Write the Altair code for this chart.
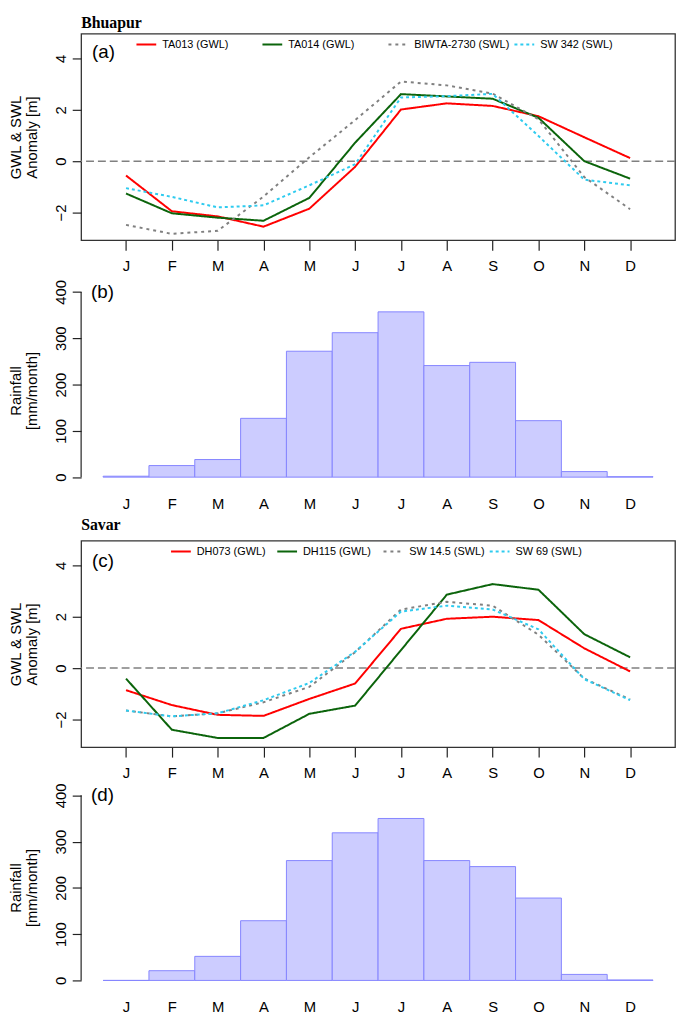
import altair as alt
import pandas as pd

months = list(range(1, 13))
month_labels = ["J", "F", "M", "A", "M", "J", "J", "A", "S", "O", "N", "D"]

# Bhuapur anomalies [m]
bh_names = ["TA013 (GWL)", "TA014 (GWL)", "BIWTA-2730 (SWL)", "SW 342 (SWL)"]
ta013 = [-0.56, -1.95, -2.15, -2.55, -1.85, -0.22, 2.01, 2.25, 2.15, 1.75, 0.93, 0.12]
ta014 = [-1.26, -2.03, -2.20, -2.32, -1.43, 0.72, 2.61, 2.52, 2.43, 1.69, 0.00, -0.68]
biwta2730 = [-2.48, -2.83, -2.71, -1.38, 0.15, 1.60, 3.10, 2.95, 2.63, 1.63, -0.62, -1.87]
sw342 = [-1.05, -1.39, -1.80, -1.72, -0.94, -0.12, 2.48, 2.53, 2.62, 0.98, -0.72, -0.94]
rain_bhuapur = [2, 25, 38, 127, 272, 312, 357, 241, 248, 122, 12, 1]

# Savar anomalies [m]
sv_names = ["DH073 (GWL)", "DH115 (GWL)", "SW 14.5 (SWL)", "SW 69 (SWL)"]
dh073 = [-0.86, -1.44, -1.82, -1.86, -1.20, -0.60, 1.53, 1.92, 2.00, 1.87, 0.77, -0.13]
dh115 = [-0.41, -2.40, -2.72, -2.72, -1.78, -1.46, 0.70, 2.86, 3.27, 3.05, 1.32, 0.42]
sw145 = [-1.65, -1.88, -1.76, -1.33, -0.73, 0.62, 2.28, 2.58, 2.43, 1.30, -0.41, -1.22]
sw69 = [-1.65, -1.88, -1.76, -1.25, -0.58, 0.64, 2.20, 2.43, 2.28, 1.51, -0.43, -1.25]
rain_savar = [0, 21, 52, 129, 259, 319, 350, 259, 246, 178, 13, 1]

line_colors = ["#ff0000", "#0b640b", "#808080", "#2ecbef"]
line_dashes = [[1, 0], [1, 0], [3, 4], [3, 3]]

gwl_ticks = [-2, 0, 2, 4]
rain_ticks = [0, 100, 200, 300, 400]

W = 601
H_LINE = 209
XDOM = [0.02, 12.98]
label_expr = "[" + ",".join("'%s'" % m for m in month_labels) + "][datum.value - 1]"
FONT = "Liberation Sans"
TITLE_PAD = 14


def line_panel(names, series, tag, title, legend_x, tag_y, title_y):
    rows = []
    for name, vals in zip(names, series):
        for m, v in zip(months, vals):
            rows.append({"month": m, "value": v, "series": name})
    df = pd.DataFrame(rows)
    legend = alt.Legend(title=None, orient="none", legendX=legend_x, legendY=0,
                        direction="horizontal", gridAlign="all", columns=4,
                        symbolType="stroke", symbolSize=400, symbolStrokeWidth=2,
                        labelFontSize=11, labelFont=FONT, labelOffset=5,
                        columnPadding=0.5, padding=0)
    x = alt.X("month:Q", scale=alt.Scale(domain=XDOM, nice=False, zero=False),
              axis=alt.Axis(values=months, labelExpr=label_expr, domain=False, tickSize=10,
                            tickWidth=1.2, labelPadding=9, title=None, grid=False,
                            labelAngle=0, labelFontSize=15))
    y = alt.Y("value:Q", scale=alt.Scale(domain=[-3.08, 4.96], nice=False, zero=False),
              axis=alt.Axis(values=gwl_ticks, title=["GWL & SWL", "Anomaly [m]"],
                            labelAngle=-90, domain=False, tickSize=9, tickWidth=1.2,
                            labelPadding=4, titlePadding=TITLE_PAD, grid=False,
                            labelFontSize=15, titleFontSize=15, titleLineHeight=16))
    lines = alt.Chart(df).mark_line(strokeWidth=2).encode(
        x=x, y=y,
        color=alt.Color("series:N", scale=alt.Scale(domain=names, range=line_colors), legend=legend),
        strokeDash=alt.StrokeDash("series:N", scale=alt.Scale(domain=names, range=line_dashes), legend=legend),
    )
    zero = alt.Chart(pd.DataFrame({"z": [0]})).mark_rule(
        color="#808080", strokeDash=[8, 4], strokeWidth=1.5).encode(y="z:Q")
    lab = alt.Chart(pd.DataFrame({"t": [tag]})).mark_text(
        align="left", baseline="middle", fontSize=19, font=FONT, color="black").encode(
        x=alt.value(11), y=alt.value(tag_y), text="t:N")
    ttl = alt.Chart(pd.DataFrame({"t": [title]})).mark_text(
        align="left", baseline="alphabetic", fontSize=16, font="Liberation Serif",
        fontWeight="bold", color="black").encode(
        x=alt.value(0), y=alt.value(title_y), text="t:N")
    return alt.layer(zero, lines, lab, ttl).properties(
        width=W, height=H_LINE,
        view=alt.ViewBackground(stroke="#333333", strokeWidth=1.3),
    )


def bar_panel(rain, tag, ydom, height, label_pad):
    df = pd.DataFrame({"month": months, "rain": rain})
    x = alt.X("x0:Q", scale=alt.Scale(domain=XDOM, nice=False, zero=False),
              axis=alt.Axis(values=months, labelExpr=label_expr, domain=False, ticks=False,
                            labelPadding=label_pad, title=None, grid=False, labelAngle=0,
                            labelFontSize=15))
    y = alt.Y("rain:Q", scale=alt.Scale(domain=ydom, nice=False, zero=False),
              axis=alt.Axis(values=rain_ticks, title=["Rainfall", "[mm/month]"],
                            labelAngle=-90, domain=False, tickSize=9,
                            tickWidth=1.2, labelPadding=4, titlePadding=TITLE_PAD, grid=False,
                            labelFontSize=15, titleFontSize=15, titleLineHeight=16))
    bars = alt.Chart(df).transform_calculate(
        x0="datum.month - 0.5", x1="datum.month + 0.5").mark_rect(
        fill="#ccccff", stroke="#8585ff", strokeWidth=1).encode(
        x=x, x2="x1:Q", y=y, y2=alt.datum(0))
    # y-axis line spanning only the tick range (0 to 400), R style
    axis_line = alt.Chart(pd.DataFrame({"lo": [min(rain_ticks)], "hi": [max(rain_ticks)]})).mark_rule(
        color="#222222", strokeWidth=1.2).encode(
        x=alt.value(0), y="lo:Q", y2="hi:Q")
    lab = alt.Chart(pd.DataFrame({"t": [tag], "v": [max(rain_ticks)]})).mark_text(
        align="left", baseline="middle", fontSize=19, font=FONT, color="black").encode(
        x=alt.value(10), y="v:Q", text="t:N")
    return alt.layer(bars, axis_line, lab).properties(width=W, height=height)


pa = line_panel(bh_names, [ta013, ta014, biwta2730, sw342], "(a)", "Bhuapur", 55, 18.7, -6)
pb = bar_panel(rain_bhuapur, "(b)", [-34.8, 409.2], 208, 3)
pc = line_panel(sv_names, [dh073, dh115, sw145, sw69], "(c)", "Savar", 90, 20.5, -11)
pd_ = bar_panel(rain_savar, "(d)", [0, 401.5], 188, 19)

chart = alt.VConcatChart(vconcat=[pa, pb, pc, pd_], spacing=48, bounds="flush", padding=0).resolve_scale(
    color="independent", strokeDash="independent").configure_view(stroke=None).configure_axis(
    labelFont=FONT, titleFont=FONT, labelColor="black", titleColor="black",
    tickColor="#222222", domainColor="#222222", titleFontWeight="normal")

chart.save("out.html", embed_options={"renderer": "svg", "actions": False})
